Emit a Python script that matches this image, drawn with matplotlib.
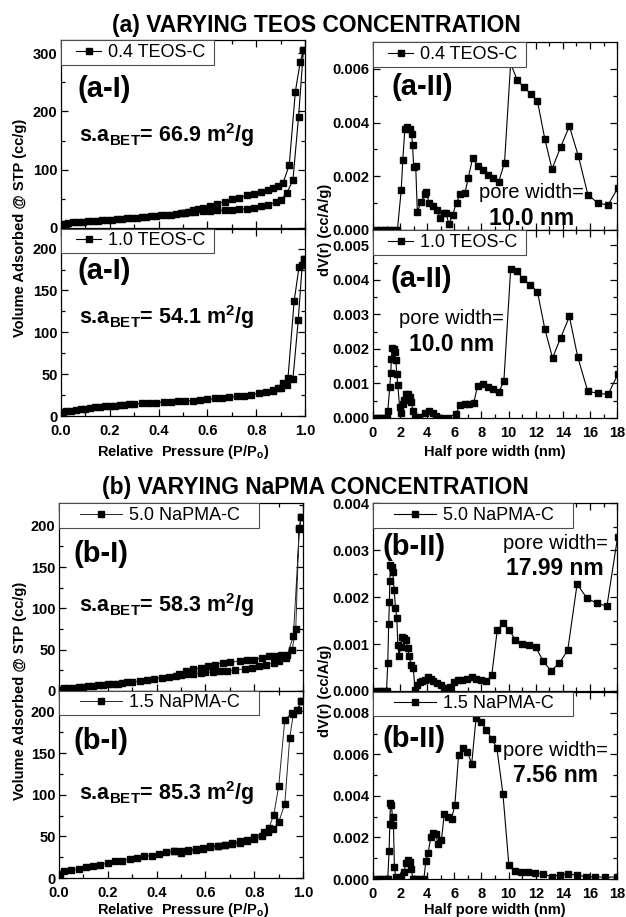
import matplotlib
matplotlib.use("Agg")
import matplotlib.pyplot as plt
from matplotlib.legend_handler import HandlerLine2D
from matplotlib.ticker import MultipleLocator, NullFormatter

# ---- (a) isotherms ----
p_ads_04teos = [0.003, 0.01, 0.02, 0.03, 0.05, 0.07, 0.09, 0.11, 0.13, 0.15, 0.17, 0.19, 0.21, 0.23,
                0.25, 0.27, 0.29, 0.31, 0.33, 0.35, 0.37, 0.39, 0.41, 0.43, 0.45, 0.47, 0.49, 0.51,
                0.53, 0.55, 0.58, 0.61, 0.64, 0.67, 0.70, 0.73, 0.76, 0.79, 0.82, 0.85, 0.88, 0.90,
                0.925, 0.95, 0.973, 0.993]
v_ads_04teos = [4, 6, 7.5, 8.5, 9.5, 10.5, 11, 11.5, 12, 12.5, 13, 14, 14.5, 15,
                16, 16.5, 17, 17.5, 18.5, 19.5, 20, 21, 21.5, 22, 23, 24, 25, 26,
                27, 27.5, 28.5, 29, 30, 30.5, 31, 32, 33, 35, 37, 40, 44, 48,
                60, 82, 190, 305]
p_des_04teos = [0.993, 0.98, 0.96, 0.935, 0.91, 0.89, 0.87, 0.85, 0.82, 0.79, 0.76, 0.73, 0.70,
                0.67, 0.64, 0.61, 0.58, 0.56, 0.54, 0.52, 0.50]
v_des_04teos = [305, 285, 234, 108, 78, 72, 69, 66, 62, 59, 56, 52, 49,
                45, 42, 38, 35, 33, 30, 28, 26]

p_ads_10teos = [0.003, 0.01, 0.02, 0.04, 0.06, 0.08, 0.10, 0.12, 0.14, 0.16, 0.18, 0.20, 0.22, 0.24,
                0.26, 0.28, 0.30, 0.33, 0.36, 0.39, 0.42, 0.45, 0.48, 0.51, 0.54, 0.57, 0.60, 0.63,
                0.66, 0.69, 0.72, 0.75, 0.78, 0.81, 0.84, 0.87, 0.90, 0.925, 0.95, 0.972, 0.988, 0.995]
v_ads_10teos = [3, 4.5, 5.5, 6.5, 7.5, 8.5, 9, 10, 10.5, 11, 11.5, 12, 12.5, 13,
                13.5, 14, 14.5, 15, 15.5, 16, 16.5, 17, 17.5, 18, 18.5, 19.5, 20, 21,
                22, 22.5, 23.5, 24.5, 25.5, 27, 28.5, 30, 33, 37, 44, 115, 180, 187]
p_des_10teos = [0.995, 0.975, 0.955, 0.93, 0.91, 0.89, 0.87]
v_des_10teos = [187, 178, 137, 46, 39, 34, 31]

# ---- (b) isotherms ----
p_ads_50napma = [0.003, 0.02, 0.04, 0.06, 0.08, 0.10, 0.12, 0.14, 0.16, 0.18, 0.20, 0.22, 0.24, 0.26,
                 0.28, 0.30, 0.33, 0.36, 0.39, 0.42, 0.45, 0.48, 0.50, 0.52, 0.55, 0.58, 0.60, 0.63,
                 0.66, 0.69, 0.72, 0.76, 0.79, 0.82, 0.85, 0.88, 0.90, 0.93, 0.955, 0.97, 0.983, 0.992]
v_ads_50napma = [1.5, 3, 3.5, 4, 4.5, 5, 5.5, 6, 7, 7.5, 8, 8.5, 9, 10,
                 10.5, 11, 12, 13, 14.5, 16, 17, 18.5, 19, 21, 21, 21.5, 22.5, 23,
                 24, 24.5, 25, 27, 28, 30, 32, 34, 36, 40, 50, 75, 197, 210]
p_des_50napma = [0.992, 0.985, 0.96, 0.935, 0.91, 0.88, 0.86, 0.83, 0.80, 0.77, 0.74, 0.70, 0.67,
                 0.64, 0.61, 0.58, 0.55, 0.52, 0.49]
v_des_50napma = [210, 196, 66, 44, 43, 42, 42, 40, 38, 38, 36, 35, 34,
                 32, 30, 28, 26, 24, 21]

p_ads_15napma = [0.003, 0.02, 0.05, 0.08, 0.11, 0.14, 0.17, 0.20, 0.23, 0.26, 0.29, 0.32, 0.35, 0.38,
                 0.41, 0.44, 0.47, 0.50, 0.53, 0.56, 0.59, 0.62, 0.65, 0.68, 0.71, 0.74, 0.77, 0.80,
                 0.83, 0.855, 0.877, 0.90, 0.925, 0.945, 0.96, 0.978, 0.993]
v_ads_15napma = [5, 8, 10, 11, 13, 14, 16, 18, 20, 21, 23, 24, 26, 27,
                 29, 31, 32, 30, 33, 34, 35, 37, 38, 40, 41, 42, 44, 47,
                 51, 55, 59, 67, 89, 168, 197, 202, 212]
p_des_15napma = [0.993, 0.975, 0.955, 0.925, 0.90, 0.88, 0.86, 0.84, 0.80, 0.77, 0.74, 0.71, 0.68,
                 0.65, 0.62, 0.59, 0.56, 0.53, 0.50, 0.47]
v_des_15napma = [212, 202, 198, 190, 110, 76, 60, 55, 49, 46, 44, 42, 40,
                 39, 38, 36, 35, 34, 33, 33]

# ---- (a) pore size distributions ----
w_04teos = [0.3, 0.6, 0.9, 1.2, 1.5, 1.8, 2.08, 2.2, 2.35, 2.52, 2.7, 2.85, 2.92, 3.0,
            3.15, 3.27, 3.56, 3.85, 3.92, 4.13, 4.4, 4.7, 4.95, 5.2, 5.37, 5.6, 5.87, 6.16,
            6.44, 6.78, 7.03, 7.35, 7.72, 8.1, 8.47, 8.86, 9.26, 9.7, 10.15, 10.62, 11.1, 11.63,
            12.13, 12.67, 13.2, 13.84, 14.48, 15.15, 15.84, 16.58, 17.33, 18.05]
dv_04teos = [0, 0, 0, 0, 0, 0, 0.00147, 0.00261, 0.00376, 0.00382, 0.00377, 0.00357, 0.00315, 0.00236,
             0.00239, 0.00068, 0.00106, 0.00134, 0.00143, 0.00102, 0.0009, 0.00075, 0.00044, 0.00065, 0.00065, 0.00022, 0.00056, 0.00102,
             0.00134, 0.00137, 0.00195, 0.00268, 0.00239, 0.00222, 0.00205, 0.00193, 0.00178, 0.00251, 0.0062, 0.0056, 0.00531, 0.00508,
             0.00479, 0.00339, 0.00227, 0.00309, 0.00386, 0.00274, 0.00132, 0.001, 0.00093, 0.00156]

w_10teos = [0.2, 0.4, 0.6, 0.8, 1.0, 1.09, 1.24, 1.31, 1.36, 1.41, 1.53, 1.6, 1.68, 1.76,
            1.83, 1.96, 2.1, 2.18, 2.3, 2.43, 2.55, 2.7, 2.82, 2.95, 3.1, 3.4, 3.8, 4.13,
            4.45, 4.63, 5.0, 5.5, 6.1, 6.44, 6.78, 7.1, 7.43, 7.72, 8.1, 8.5, 8.86, 9.26,
            9.65, 10.15, 10.6, 11.06, 11.58, 12.13, 12.67, 13.24, 13.84, 14.48, 15.1, 15.84, 16.58, 17.33,
            18.05]
dv_10teos = [0, 0, 0, 0, 0, 0.00019, 0.00091, 0.0013, 0.00171, 0.00203, 0.002, 0.0019, 0.00168, 0.00126,
             0.00096, 0.00033, 0.00014, 0.00041, 0.00052, 0.00068, 0.0007, 0.00062, 0.00045, 0.00021, 0.00004, 0.00002, 0.00014, 0.00019,
             0.00015, 0.00007, 0, 0, 0.00012, 0.00038, 0.00039, 0.00039, 0.00044, 0.00094, 0.00097, 0.00091, 0.00084, 0.00074,
             0.00106, 0.0043, 0.00426, 0.00403, 0.00386, 0.00365, 0.00258, 0.00174, 0.00232, 0.00294, 0.00176, 0.00077, 0.00072, 0.00068,
             0.00126]

# ---- (b) pore size distributions ----
w_50napma = [0.25, 0.5, 0.75, 1.0, 1.09, 1.16, 1.21, 1.24, 1.29, 1.39, 1.46, 1.56, 1.66, 1.76,
             1.83, 1.93, 2.03, 2.15, 2.3, 2.43, 2.55, 2.67, 2.82, 2.97, 3.1, 3.27, 3.44, 3.64,
             3.84, 4.08, 4.26, 4.43, 4.7, 5.0, 5.32, 5.7, 6.0, 6.29, 6.6, 6.93, 7.28, 7.6,
             7.97, 8.34, 8.76, 9.16, 9.58, 10.02, 10.5, 10.99, 11.49, 12.0, 12.55, 13.12, 13.74, 14.36,
             15.05, 15.77, 16.51, 17.25, 18.04]
dv_50napma = [0, 0, 0, 0, 0.00059, 0.00143, 0.00189, 0.00234, 0.00269, 0.00264, 0.00253, 0.00216, 0.00178, 0.00155,
              0.00098, 0.00074, 0.00094, 0.00116, 0.00114, 0.00109, 0.00091, 0.00074, 0.00055, 0.00049, 0.00003, 0.00012, 0.00019, 0.00021,
              0.00023, 0.00029, 0.00026, 0.00021, 0.00017, 0.00012, 0.00007, 0.00009, 0.00019, 0.00023, 0.00024, 0.00026, 0.00029, 0.00026,
              0.00023, 0.00021, 0.00034, 0.00129, 0.00144, 0.00131, 0.00109, 0.00101, 0.00099, 0.00093, 0.00064, 0.00043, 0.00059, 0.00087,
              0.00228, 0.00198, 0.00187, 0.00181, 0.00329]

w_15napma = [0.25, 0.5, 0.75, 1.0, 1.09, 1.19, 1.24, 1.29, 1.36, 1.44, 1.51, 1.58, 1.68, 1.85,
             2.03, 2.3, 2.43, 2.55, 2.7, 2.82, 2.95, 3.2, 3.5, 3.75, 3.9, 4.06, 4.26, 4.46,
             4.63, 4.8, 5.05, 5.25, 5.5, 5.8, 6.04, 6.31, 6.63, 6.96, 7.28, 7.6, 7.97, 8.37,
             8.74, 9.13, 9.58, 10.02, 10.45, 10.94, 11.44, 11.98, 12.57, 13.17, 13.76, 14.41, 15.05, 15.69,
             16.39, 17.13, 18.0]
dv_15napma = [0, 0, 0, 0, 0, 0.00136, 0.00264, 0.00366, 0.00355, 0.00296, 0.00259, 0.00059, 0.00008, 0,
              0, 0.00035, 0.00078, 0.00091, 0.00083, 0.00046, 0, 0, 0, 0, 0.00086, 0.00123, 0.002, 0.00222,
              0.00216, 0.00168, 0.00187, 0.00312, 0.00299, 0.00291, 0.00358, 0.00595, 0.00632, 0.00611, 0.00555, 0.00774, 0.00755, 0.00718,
              0.00675, 0.00632, 0.00411, 0.00067, 0.0004, 0.00035, 0.00034, 0.0003, 0.00024, 0.00011, 0.00021, 0.00024, 0.00019, 0.00011,
              0.00011, 0.00008, 0.00011]

labels = ["0.4 TEOS-C", "1.0 TEOS-C", "5.0 NaPMA-C", "1.5 NaPMA-C"]
bet_areas = ["66.9", "54.1", "58.3", "85.3"]
pore_widths = ["10.0", "10.0", "17.99", "7.56"]


def style_axes(ax, xmaj, xmin, ymaj, ymin, xlim, ylim, show_x):
    ax.set_xlim(xlim)
    ax.set_ylim(ylim)
    ax.xaxis.set_major_locator(MultipleLocator(xmaj))
    ax.xaxis.set_minor_locator(MultipleLocator(xmin))
    ax.yaxis.set_major_locator(MultipleLocator(ymaj))
    ax.yaxis.set_minor_locator(MultipleLocator(ymin))
    ax.tick_params(which='both', direction='in', top=True, right=True, width=0.9)
    ax.tick_params(which='major', length=5)
    ax.tick_params(which='minor', length=3)
    ax.tick_params(axis='x', pad=5.5)
    ax.tick_params(axis='y', pad=2.5)
    for lab in ax.get_xticklabels() + ax.get_yticklabels():
        lab.set_fontweight('bold')
        lab.set_fontsize(10.5)
    if not show_x:
        ax.xaxis.set_major_formatter(NullFormatter())
    for sp in ax.spines.values():
        sp.set_linewidth(0.9)


def add_legend(ax, handlelen, lead, tail):
    # Origin style box glued to the upper-left corner, with some room before the sample line
    line = ax.get_lines()[0]
    leg = ax.legend([line], [line.get_label() + tail], loc='upper left', bbox_to_anchor=(0, 1),
                    borderaxespad=0, fancybox=False, edgecolor='0.3', framealpha=1, fontsize=13,
                    handlelength=handlelen, handletextpad=0.4, borderpad=0.2,
                    handler_map={line: HandlerLine2D(xpad=lead)})
    leg.get_frame().set_linewidth(0.8)


def bet_text(ax, x, y, area):
    # s.a_BET= xx.x m²/g  (bold, sub/superscript through mathtext)
    ax.text(x, y, r's.a$_{\mathbf{BET}}$= %s m$^{\mathbf{2}}$/g' % area, transform=ax.transAxes,
            fontsize=15.5, fontweight='bold', ha='left', va='center')


def main():
    plt.rcParams['font.family'] = ['Liberation Sans', 'DejaVu Sans']
    plt.rcParams['mathtext.fontset'] = 'custom'
    plt.rcParams['mathtext.rm'] = 'Liberation Sans'
    plt.rcParams['mathtext.bf'] = 'Liberation Sans:bold'
    plt.rcParams['mathtext.it'] = 'Liberation Sans:italic'

    fig = plt.figure(figsize=(6.26, 9.17), dpi=100)
    W = 0.39
    H = 0.2045
    lw = 0.8
    ms = 4.5

    # ---------------- (a) ----------------
    ax1 = fig.add_axes([0.0974, 0.7514, W, H])
    ax2 = fig.add_axes([0.0974, 0.5463, W, H])
    ax3 = fig.add_axes([0.5958, 0.7492, W, H])
    ax4 = fig.add_axes([0.5958, 0.5442, W, H])

    ax1.plot(p_ads_04teos + p_des_04teos, v_ads_04teos + v_des_04teos, '-s', color='k',
             lw=lw, ms=ms, label=labels[0])
    ax2.plot(p_ads_10teos + p_des_10teos, v_ads_10teos + v_des_10teos, '-s', color='k',
             lw=lw, ms=ms, label=labels[1])
    ax3.plot(w_04teos, dv_04teos, '-s', color='k', lw=lw, ms=ms, label=labels[0])
    ax4.plot(w_10teos, dv_10teos, '-s', color='k', lw=lw, ms=ms, label=labels[1])

    style_axes(ax1, 0.2, 0.1, 100, 50, (0, 1.0), (0, 322), False)
    style_axes(ax2, 0.2, 0.1, 50, 25, (0, 1.0), (0, 224), True)
    style_axes(ax3, 2, 1, 0.002, 0.001, (0, 18), (0, 0.00698), False)
    style_axes(ax4, 2, 1, 0.001, 0.0005, (0, 18), (0, 0.00543), True)

    for ax in (ax1, ax2, ax3, ax4):
        add_legend(ax, 2.0, 0.65, ' ')

    ax1.text(0.066, 0.743, '(a-I)', transform=ax1.transAxes, fontsize=21, fontweight='bold', va='center')
    ax2.text(0.066, 0.775, '(a-I)', transform=ax2.transAxes, fontsize=21, fontweight='bold', va='center')
    bet_text(ax1, 0.074, 0.497, bet_areas[0])
    bet_text(ax2, 0.074, 0.527, bet_areas[1])

    ax3.text(0.074, 0.76, '(a-II)', transform=ax3.transAxes, fontsize=21, fontweight='bold', va='center')
    ax4.text(0.07, 0.74, '(a-II)', transform=ax4.transAxes, fontsize=21, fontweight='bold', va='center')
    ax3.text(0.65, 0.2, 'pore width=', transform=ax3.transAxes, fontsize=14.5, ha='center', va='center')
    ax3.text(0.65, 0.06, pore_widths[0] + ' nm', transform=ax3.transAxes, fontsize=16.5,
             fontweight='bold', ha='center', va='center')
    ax4.text(0.32, 0.53, 'pore width=', transform=ax4.transAxes, fontsize=14.5, ha='center', va='center')
    ax4.text(0.32, 0.39, pore_widths[1] + ' nm', transform=ax4.transAxes, fontsize=16.5,
             fontweight='bold', ha='center', va='center')

    # ---------------- (b) ----------------
    ax5 = fig.add_axes([0.0942, 0.2465, W, H])
    ax6 = fig.add_axes([0.0942, 0.0425, W, H])
    ax7 = fig.add_axes([0.5958, 0.2465, W, H])
    ax8 = fig.add_axes([0.5958, 0.0414, W, H])

    bcol = '0.15'
    ax5.plot(p_ads_50napma + p_des_50napma, v_ads_50napma + v_des_50napma, '-s', color=bcol,
             mfc='k', mec='k', lw=0.7, ms=ms, label=labels[2])
    ax6.plot(p_ads_15napma + p_des_15napma, v_ads_15napma + v_des_15napma, '-s', color=bcol,
             mfc='k', mec='k', lw=0.7, ms=ms, label=labels[3])
    ax7.plot(w_50napma, dv_50napma, '-s', color='k', lw=lw, ms=ms, label=labels[2])
    ax8.plot(w_15napma, dv_15napma, '-s', color='k', lw=lw, ms=ms, label=labels[3])

    style_axes(ax5, 0.2, 0.1, 50, 25, (0, 1.0), (0, 227), False)
    style_axes(ax6, 0.2, 0.1, 50, 25, (0, 1.0), (0, 225), True)
    style_axes(ax7, 2, 1, 0.001, 0.0005, (0, 18), (0, 0.004), False)
    style_axes(ax8, 2, 1, 0.002, 0.001, (0, 18), (0, 0.00902), True)

    for ax in (ax5, ax6, ax7, ax8):
        add_legend(ax, 3.3, 0.95, '   ')

    ax5.text(0.058, 0.729, '(b-I)', transform=ax5.transAxes, fontsize=21, fontweight='bold', va='center')
    ax6.text(0.058, 0.733, '(b-I)', transform=ax6.transAxes, fontsize=21, fontweight='bold', va='center')
    bet_text(ax5, 0.082, 0.457, bet_areas[2])
    bet_text(ax6, 0.082, 0.455, bet_areas[3])

    ax7.text(0.037, 0.77, '(b-II)', transform=ax7.transAxes, fontsize=21, fontweight='bold', va='center')
    ax8.text(0.037, 0.745, '(b-II)', transform=ax8.transAxes, fontsize=21, fontweight='bold', va='center')
    ax7.text(0.746, 0.787, 'pore width=', transform=ax7.transAxes, fontsize=14.5, ha='center', va='center')
    ax7.text(0.746, 0.655, pore_widths[2] + ' nm', transform=ax7.transAxes, fontsize=16.5,
             fontweight='bold', ha='center', va='center')
    ax8.text(0.746, 0.686, 'pore width=', transform=ax8.transAxes, fontsize=14.5, ha='center', va='center')
    ax8.text(0.746, 0.553, pore_widths[3] + ' nm', transform=ax8.transAxes, fontsize=16.5,
             fontweight='bold', ha='center', va='center')

    # ---------------- figure texts ----------------
    fig.text(0.506, 0.9727, '(a) VARYING TEOS CONCENTRATION', fontsize=16.5, fontweight='bold',
             ha='center', va='center')
    fig.text(0.503, 0.4685, '(b) VARYING NaPMA CONCENTRATION', fontsize=16.5, fontweight='bold',
             ha='center', va='center')

    ylab_iso = 'Volume Adsorbed @ STP (cc/g)'
    ylab_psd = 'dV(r) (cc/A/g)'
    xlab_iso = r'Relative  Pressure (P/P$_\mathbf{o}$)'
    xlab_psd = 'Half pore width (nm)'
    for (yc, ycr, xy) in ((0.7514, 0.7492, 0.507), (0.2465, 0.2465, 0.008)):
        fig.text(0.032, yc, ylab_iso, rotation=90, fontsize=10.5, fontweight='bold',
                 ha='center', va='center')
        fig.text(0.519, ycr, ylab_psd, rotation=90, fontsize=10.5, fontweight='bold',
                 ha='center', va='center')
        fig.text(0.292, xy, xlab_iso, fontsize=10.5, fontweight='bold', ha='center', va='center')
        fig.text(0.79, xy, xlab_psd, fontsize=10.5, fontweight='bold', ha='center', va='center')

    fig.savefig('out.png', dpi=100)


if __name__ == "__main__":
    main()
